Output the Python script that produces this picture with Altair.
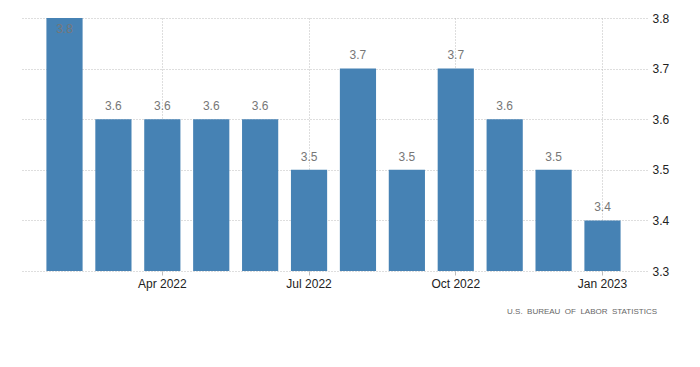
import altair as alt
import pandas as pd

months = ["Feb 2022", "Mar 2022", "Apr 2022", "May 2022", "Jun 2022", "Jul 2022",
          "Aug 2022", "Sep 2022", "Oct 2022", "Nov 2022", "Dec 2022", "Jan 2023"]
values = [3.8, 3.6, 3.6, 3.6, 3.6, 3.5, 3.7, 3.5, 3.7, 3.6, 3.5, 3.4]
tick_months = ["Apr 2022", "Jul 2022", "Oct 2022", "Jan 2023"]
y_ticks = [3.3, 3.4, 3.5, 3.6, 3.7, 3.8]
source = "U.S.\u00a0 BUREAU\u00a0 OF\u00a0 LABOR\u00a0 STATISTICS"

df = pd.DataFrame({"month": months, "value": values})

FONT = "Liberation Sans"
GRID = "#bdbdbd"

x = alt.X("month:N", sort=months, title=None,
          scale=alt.Scale(paddingInner=0.26, paddingOuter=0.54),
          axis=alt.Axis(values=tick_months, labelAngle=0, bandPosition=0.5,
                        grid=True, gridDash=[1, 2], gridColor=GRID,
                        domain=False, ticks=True, tickSize=4, tickColor=GRID,
                        labelFont=FONT, labelFontSize=12, labelColor="#222",
                        labelPadding=3))

y = alt.Y("value:Q", title=None,
          scale=alt.Scale(domain=[3.3, 3.8], nice=False, zero=False),
          axis=alt.Axis(orient="right", values=y_ticks, format=".1f",
                        grid=True, gridDash=[1, 2], gridColor=GRID,
                        domain=False, ticks=False, labelPadding=5,
                        labelFont=FONT, labelFontSize=12, labelColor="#222"))

bars = alt.Chart(df).mark_bar(color="#4682b4", clip=True).encode(x=x, y=y, y2=alt.datum(3.3))

labels = alt.Chart(df).transform_calculate(
    ly="min(datum.value + 0.026, 3.779)"
).mark_text(font=FONT, fontSize=12, color="#777", baseline="middle").encode(
    x=alt.X("month:N", sort=months),
    y=alt.Y("ly:Q"),
    text=alt.Text("value:Q", format=".1f"),
)

src = alt.Chart(pd.DataFrame({"t": [source]})).mark_text(
    font=FONT, fontSize=8, color="#666", align="right", baseline="middle"
).encode(x=alt.value(637), y=alt.value(294), text="t:N")

chart = alt.layer(bars, labels, src).properties(
    width=627, height=253,
    background="white",
    autosize=alt.AutoSizeParams(type="none"),
    padding={"left": 12, "top": 10, "right": 45, "bottom": 86},
).configure_view(strokeWidth=0, strokeOpacity=0)

chart.save("out.html", embed_options={"renderer": "svg", "actions": False})
